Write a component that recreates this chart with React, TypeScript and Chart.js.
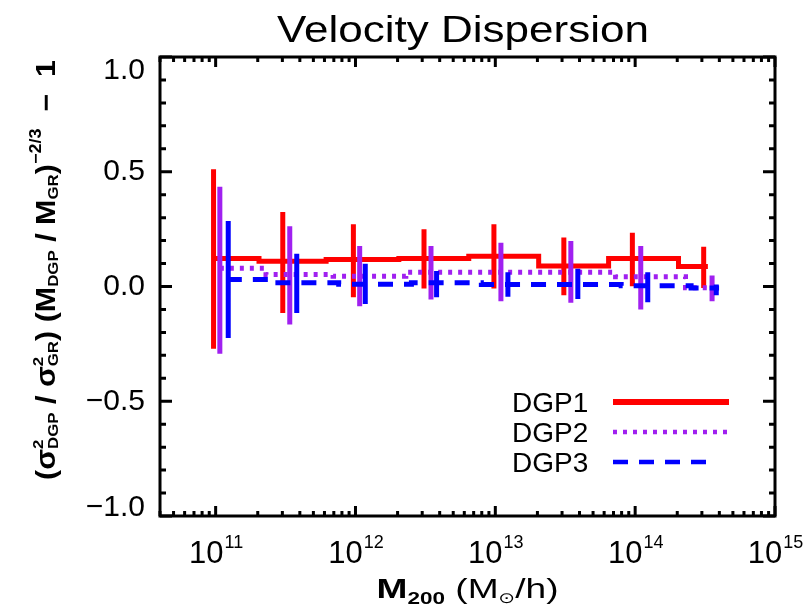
import React, { useEffect, useRef } from 'react';
import { Chart, registerables } from 'chart.js';

Chart.register(...registerables);

const FONT = "'Liberation Sans', Arial, 'DejaVu Sans', sans-serif";

const CHART_TITLE = 'Velocity Dispersion';
const SERIES_LABELS = ['DGP1', 'DGP2', 'DGP3'];
const SERIES_COLORS = ['#ff0000', '#a020f0', '#0000ff'];

const X_MIN = 4e10;
const X_MAX = 1e15;
const Y_MIN = -1;
const Y_MAX = 1;
const X_TICK_EXPONENTS = [11, 12, 13, 14, 15];
const Y_TICK_VALUES = [-1, -0.5, 0, 0.5, 1];

// Step curves: log10(M200) bin edges and values
const DGP1_STEP_LOGM = [10.985, 11.31, 11.79, 12.31, 12.81, 13.31, 13.81, 14.31, 14.52];
const DGP1_STEP_VAL = [0.122, 0.110, 0.118, 0.122, 0.132, 0.089, 0.122, 0.087, 0.087];
const DGP2_STEP_LOGM = [11.03, 11.36, 11.84, 12.36, 12.86, 13.36, 13.86, 14.36, 14.56];
const DGP2_STEP_VAL = [0.079, 0.052, 0.045, 0.062, 0.062, 0.062, 0.043, -0.005, -0.005];
const DGP3_STEP_LOGM = [11.08, 11.4, 11.88, 12.4, 12.9, 13.4, 13.9, 14.4, 14.6];
const DGP3_STEP_VAL = [0.031, 0.016, 0.010, 0.016, 0.009, 0.009, 0.003, -0.006, -0.006];

// Error bars: log10(M200) positions, lower and upper ends
const DGP1_ERR_LOGM = [10.985, 11.48, 11.985, 12.49, 12.99, 13.49, 13.98, 14.49];
const DGP1_ERR_LO = [-0.271, -0.115, -0.047, -0.009, -0.009, -0.038, 0.001, -0.006];
const DGP1_ERR_HI = [0.511, 0.325, 0.271, 0.249, 0.271, 0.213, 0.234, 0.173];
const DGP2_ERR_LOGM = [11.03, 11.53, 12.03, 12.54, 13.04, 13.54, 14.04, 14.55];
const DGP2_ERR_LO = [-0.293, -0.166, -0.086, -0.057, -0.064, -0.071, -0.100, -0.064];
const DGP2_ERR_HI = [0.435, 0.263, 0.176, 0.176, 0.191, 0.198, 0.176, 0.048];
const DGP3_ERR_LOGM = [11.09, 11.58, 12.07, 12.58, 13.09, 13.59, 14.09, 14.58];
const DGP3_ERR_LO = [-0.224, -0.115, -0.076, -0.047, -0.045, -0.054, -0.069, -0.038];
const DGP3_ERR_HI = [0.285, 0.143, 0.099, 0.067, 0.062, 0.077, 0.062, 0.009];

const SERIES_DASH = [[], [4, 6], [15, 11]];

function stepPoints(logm: number[], vals: number[]) {
  return logm.map((l, i) => ({ x: Math.pow(10, l), y: vals[i] }));
}
function errPoints(logm: number[], lo: number[], hi: number[]) {
  const out: { x: number; y: number | null }[] = [];
  logm.forEach((l, i) => {
    const x = Math.pow(10, l);
    out.push({ x, y: lo[i] }, { x, y: hi[i] }, { x, y: null });
  });
  return out;
}

function font(size: number, bold = false) {
  return `${bold ? 'bold ' : ''}${size}px ${FONT}`;
}

type Run = { t: string; size: number; bold?: boolean; dy?: number; stack?: boolean };

function runsWidth(ctx: CanvasRenderingContext2D, runs: Run[]) {
  let w = 0;
  for (const r of runs) {
    ctx.font = font(r.size, r.bold);
    const m = ctx.measureText(r.t).width;
    if (!r.stack) w += m;
  }
  return w;
}
function drawRuns(ctx: CanvasRenderingContext2D, runs: Run[], x0: number, y0: number) {
  let x = x0;
  for (const r of runs) {
    ctx.font = font(r.size, r.bold);
    ctx.fillText(r.t, x, y0 + (r.dy || 0));
    if (!r.stack) x += ctx.measureText(r.t).width;
  }
}

const Y_TITLE_RUNS: Run[] = [
  { t: '(', size: 27, bold: true },
  { t: 'σ', size: 27, bold: true },
  { t: '2', size: 15, bold: true, dy: -12, stack: true },
  { t: 'DGP', size: 15, bold: true, dy: 3 },
  { t: ' / ', size: 27, bold: true },
  { t: 'σ', size: 27, bold: true },
  { t: '2', size: 15, bold: true, dy: -12, stack: true },
  { t: 'GR', size: 15, bold: true, dy: 3 },
  { t: ') (', size: 27, bold: true },
  { t: 'M', size: 27, bold: true },
  { t: 'DGP', size: 15, bold: true, dy: 3 },
  { t: ' / ', size: 27, bold: true },
  { t: 'M', size: 27, bold: true },
  { t: 'GR', size: 15, bold: true, dy: 3 },
  { t: ')', size: 27, bold: true },
  { t: '−2/3', size: 16, bold: true, dy: -14 },
  { t: '  −  1', size: 27, bold: true },
];

const X_TITLE_RUNS: Run[] = [
  { t: 'M', size: 28, bold: true },
  { t: '200', size: 17, bold: true, dy: 6 },
  { t: ' (M', size: 28 },
  { t: '⊙', size: 15, dy: 5 },
  { t: '/h)', size: 28 },
];

const decorPlugin = {
  id: 'decor',
  afterDatasetsDraw(chart: any) {
    const { ctx, chartArea: a, scales } = chart;
    const xs = scales.x;
    const ys = scales.y;
    ctx.save();
    ctx.strokeStyle = '#000';
    ctx.lineWidth = 3;
    ctx.lineCap = 'butt';
    for (let e = 10; e <= 15; e++) {
      for (let m = 1; m <= 9; m++) {
        const v = m * Math.pow(10, e);
        if (v < X_MIN * 0.999 || v > X_MAX * 1.001) continue;
        const px = xs.getPixelForValue(v);
        const len = m === 1 ? 10 : 5;
        ctx.beginPath();
        ctx.moveTo(px, a.bottom);
        ctx.lineTo(px, a.bottom - len);
        ctx.moveTo(px, a.top);
        ctx.lineTo(px, a.top + len);
        ctx.stroke();
      }
    }
    for (let k = -10; k <= 10; k++) {
      const py = ys.getPixelForValue(k / 10);
      const len = k % 5 === 0 ? 12 : 6;
      ctx.beginPath();
      ctx.moveTo(a.left, py);
      ctx.lineTo(a.left + len, py);
      ctx.moveTo(a.right, py);
      ctx.lineTo(a.right - len, py);
      ctx.stroke();
    }
    ctx.lineJoin = 'miter';
    ctx.strokeRect(a.left, a.top, a.right - a.left, a.bottom - a.top);
    ctx.restore();
  },
  afterDraw(chart: any) {
    const { ctx, chartArea: a, scales } = chart;
    const xs = scales.x;
    ctx.save();
    ctx.fillStyle = '#000';
    ctx.textAlign = 'left';
    ctx.textBaseline = 'alphabetic';

    ctx.font = font(36);
    const tw = ctx.measureText(CHART_TITLE).width;
    ctx.save();
    ctx.translate(463, 42);
    ctx.scale(372 / tw, 1);
    ctx.fillText(CHART_TITLE, -tw / 2, 0);
    ctx.restore();

    for (const e of X_TICK_EXPONENTS) {
      const px = xs.getPixelForValue(Math.pow(10, e));
      ctx.font = font(31);
      const w1 = ctx.measureText('10').width;
      ctx.font = font(18);
      const w2 = ctx.measureText(String(e)).width;
      const x0 = px - (w1 + w2) / 2;
      ctx.font = font(31);
      ctx.fillText('10', x0, 563);
      ctx.font = font(18);
      ctx.fillText(String(e), x0 + w1 + 1, 548);
    }

    const xw = runsWidth(ctx, X_TITLE_RUNS);
    ctx.save();
    ctx.translate((a.left + a.right) / 2, 598);
    ctx.scale(182 / xw, 1);
    drawRuns(ctx, X_TITLE_RUNS, -xw / 2, 0);
    ctx.restore();

    const yw = runsWidth(ctx, Y_TITLE_RUNS);
    ctx.save();
    ctx.translate(55, 480);
    ctx.rotate(-Math.PI / 2);
    ctx.scale(420 / yw, 1);
    drawRuns(ctx, Y_TITLE_RUNS, 0, 0);
    ctx.restore();

    const legY = [402, 432, 462];
    const legW = [6, 4.5, 4.5];
    SERIES_LABELS.forEach((lab, i) => {
      ctx.font = font(28);
      ctx.fillStyle = '#000';
      ctx.fillText(lab, 512, legY[i] + 10);
      ctx.strokeStyle = SERIES_COLORS[i];
      ctx.lineWidth = legW[i];
      ctx.setLineDash(SERIES_DASH[i]);
      ctx.beginPath();
      ctx.moveTo(613, legY[i]);
      ctx.lineTo(i === 2 ? 717 : 729, legY[i]);
      ctx.stroke();
    });
    ctx.setLineDash([]);
    ctx.restore();
  },
};

const STEP_SETS = [
  [DGP1_STEP_LOGM, DGP1_STEP_VAL],
  [DGP2_STEP_LOGM, DGP2_STEP_VAL],
  [DGP3_STEP_LOGM, DGP3_STEP_VAL],
];
const ERR_SETS = [
  [DGP1_ERR_LOGM, DGP1_ERR_LO, DGP1_ERR_HI],
  [DGP2_ERR_LOGM, DGP2_ERR_LO, DGP2_ERR_HI],
  [DGP3_ERR_LOGM, DGP3_ERR_LO, DGP3_ERR_HI],
];

function fmtY(v: number) {
  const s = Math.abs(v).toFixed(1);
  return (v < 0 ? '−' : '') + s;
}

export default function App() {
  const ref = useRef<HTMLCanvasElement>(null);
  useEffect(() => {
    const canvas = ref.current;
    if (!canvas) return;
    const datasets: any[] = [];
    SERIES_LABELS.forEach((lab, i) => {
      datasets.push({
        label: lab,
        data: stepPoints(STEP_SETS[i][0], STEP_SETS[i][1]),
        showLine: true,
        stepped: 'before',
        borderColor: SERIES_COLORS[i],
        backgroundColor: SERIES_COLORS[i],
        borderWidth: 5,
        borderDash: SERIES_DASH[i],
        borderCapStyle: 'butt',
        pointRadius: 0,
        order: 10 - 2 * i + 1,
      });
      datasets.push({
        label: lab + ' error',
        data: errPoints(ERR_SETS[i][0], ERR_SETS[i][1], ERR_SETS[i][2]),
        showLine: true,
        spanGaps: false,
        borderColor: SERIES_COLORS[i],
        backgroundColor: SERIES_COLORS[i],
        borderWidth: 5,
        borderCapStyle: 'butt',
        pointRadius: 0,
        order: 10 - 2 * i,
      });
    });
    const chart = new Chart(canvas, {
      type: 'scatter',
      data: { datasets },
      options: {
        animation: false,
        responsive: false,
        devicePixelRatio: 1,
        layout: { padding: { left: 0, right: 36, top: 57, bottom: 0 } },
        plugins: {
          legend: { display: false },
          tooltip: { enabled: false },
          title: { display: false },
        },
        scales: {
          x: {
            type: 'logarithmic',
            min: X_MIN,
            max: X_MAX,
            grid: { display: false, drawTicks: false },
            border: { display: false },
            ticks: { display: false },
            afterBuildTicks: (s: any) => {
              s.ticks = X_TICK_EXPONENTS.map((e) => ({ value: Math.pow(10, e) }));
            },
            afterFit: (s: any) => {
              s.height = 95;
            },
          },
          y: {
            type: 'linear',
            min: Y_MIN,
            max: Y_MAX,
            grid: { display: false, drawTicks: false },
            border: { display: false },
            afterBuildTicks: (s: any) => {
              s.ticks = Y_TICK_VALUES.map((v) => ({ value: v }));
            },
            ticks: {
              color: '#000',
              padding: 15,
              font: (c: any) => {
                const v = c.tick ? c.tick.value : 0;
                const lh = v === 1 ? '28px' : v === -1 ? '16px' : 1.2;
                return { family: FONT, size: 30, lineHeight: lh };
              },
              callback: (v: any) => {
                const n = Number(v);
                const s = fmtY(n);
                if (n === 1) return ['', s];
                if (n === -1) return [s, ''];
                return s;
              },
            },
            afterFit: (s: any) => {
              s.width = 160;
            },
          },
        },
      },
      plugins: [decorPlugin],
    } as any);
    return () => chart.destroy();
  }, []);
  return (
    <div style={{ position: 'fixed', left: 0, top: 0, width: 811, height: 611, background: '#fff' }}>
      <canvas ref={ref} width={811} height={611} style={{ width: 811, height: 611, display: 'block' }} />
    </div>
  );
}
